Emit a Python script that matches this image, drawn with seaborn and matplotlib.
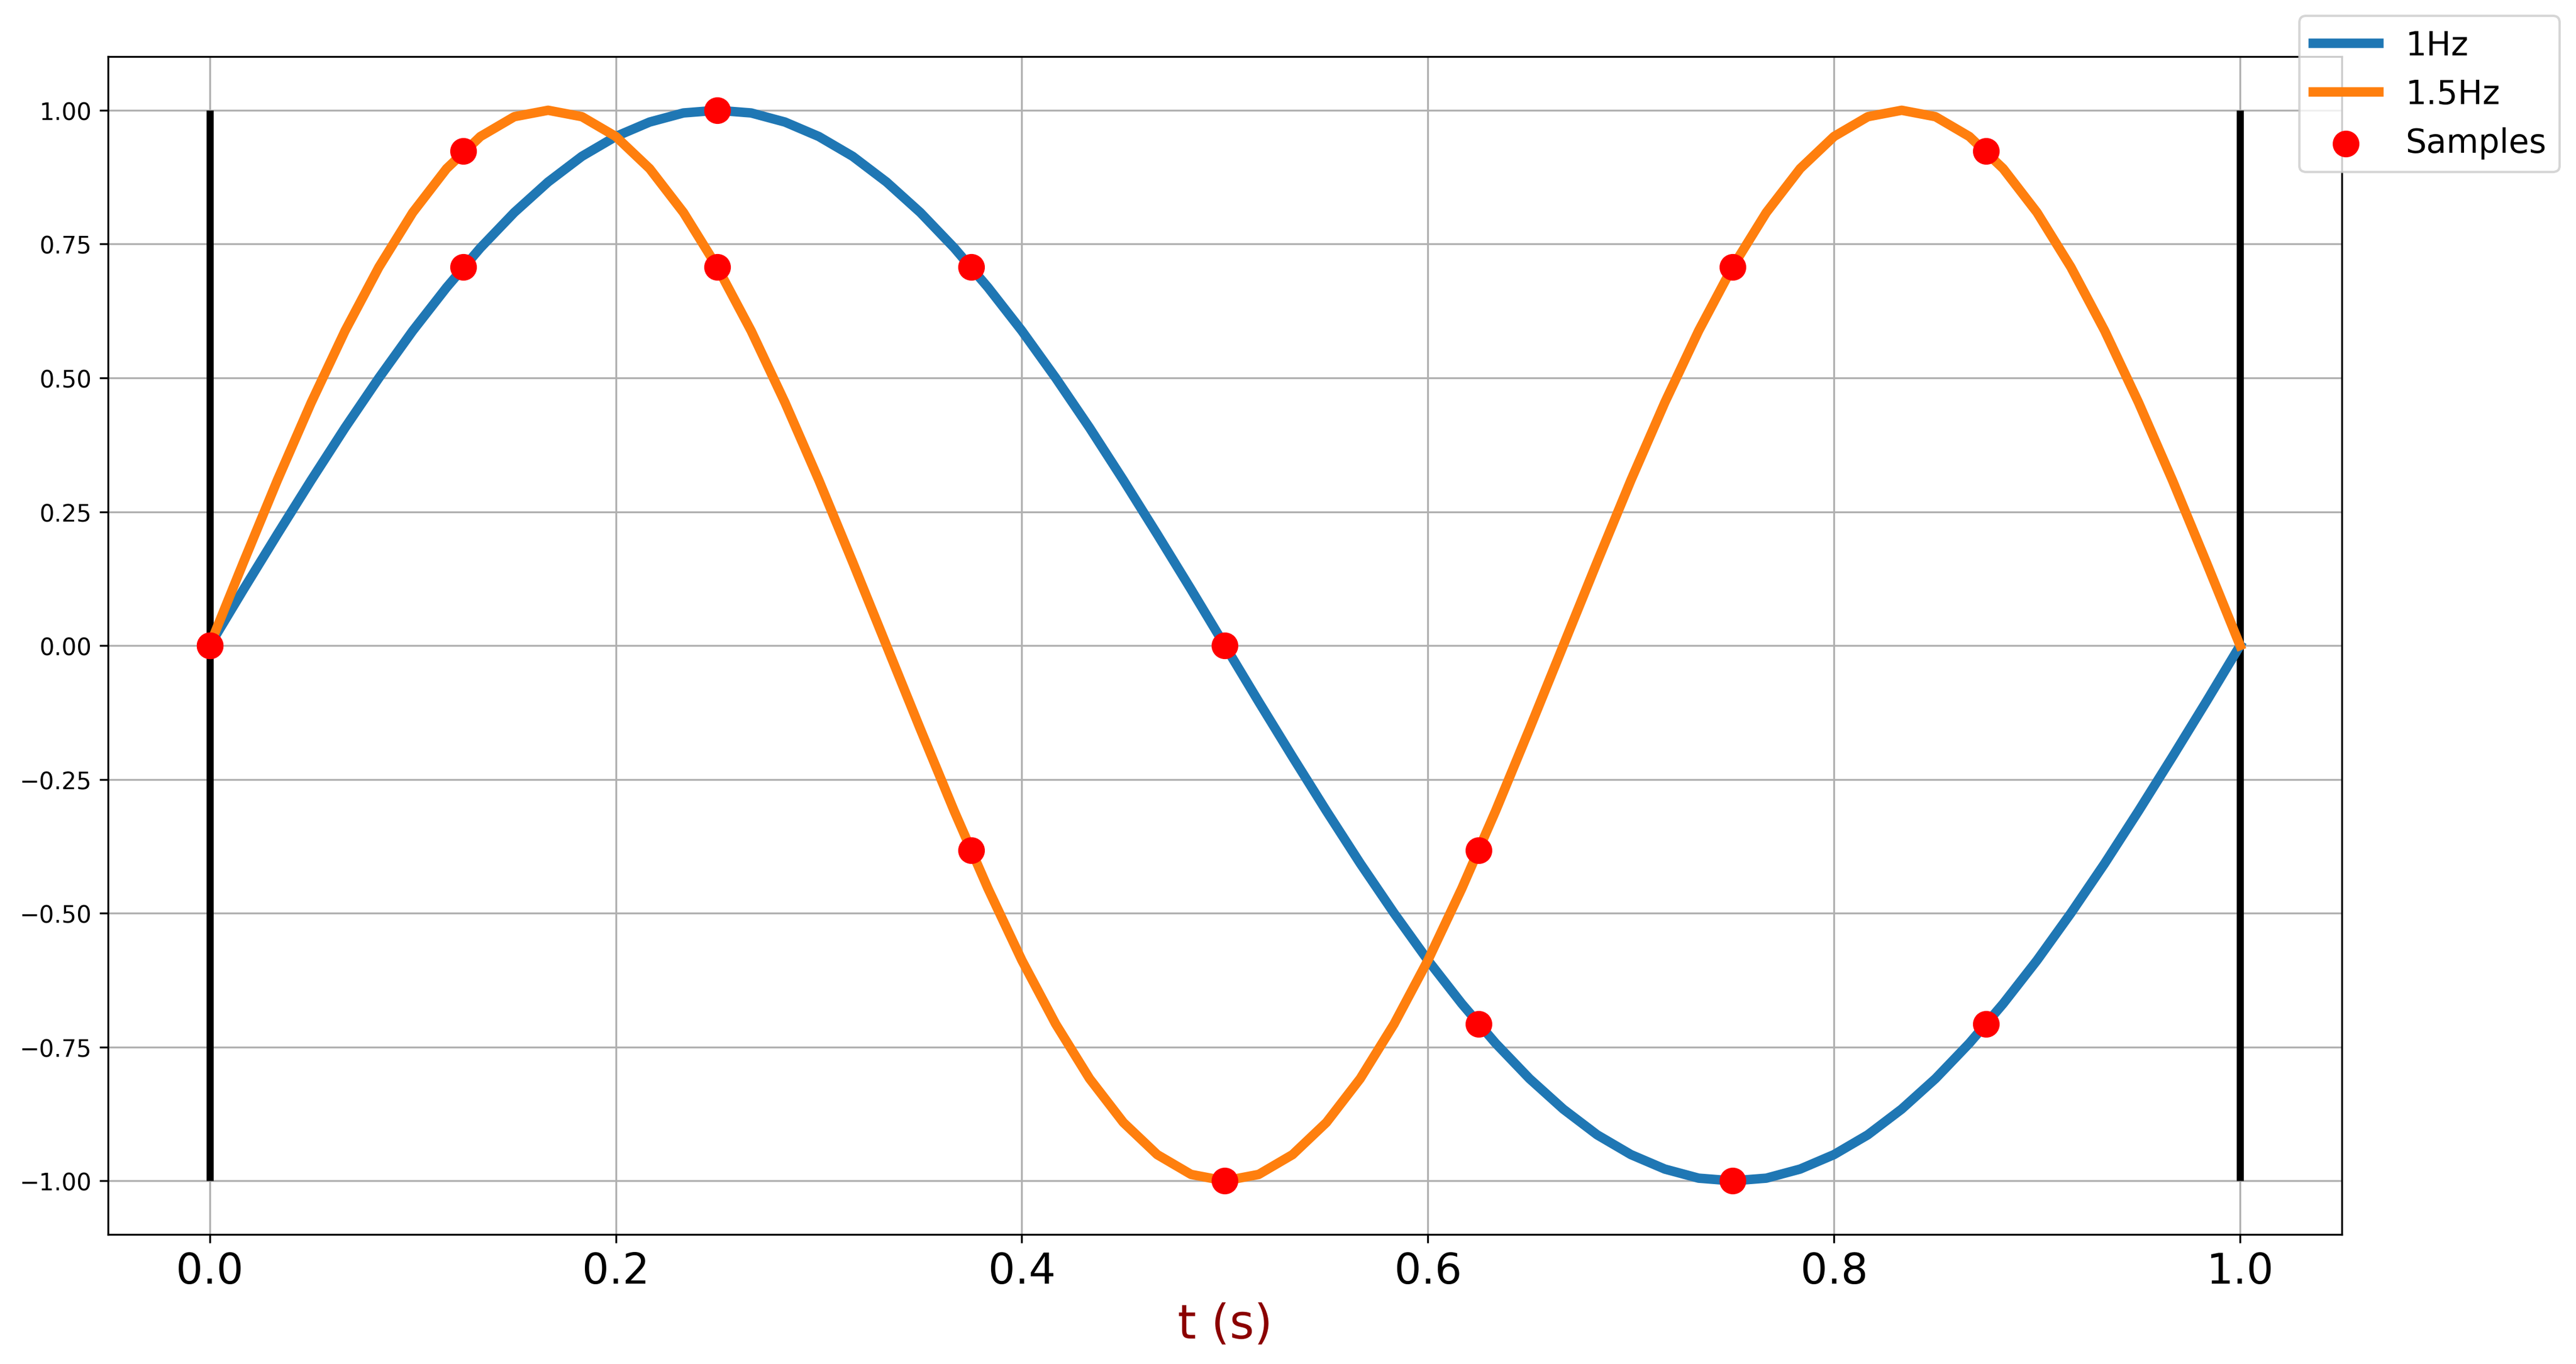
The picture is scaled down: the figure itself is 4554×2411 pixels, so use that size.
import matplotlib.pyplot as plt
import seaborn as sns

# curve points, t step = 1/60 s
t = [k / 60 for k in range(61)]
wave_1hz = [0.0, 0.105, 0.208, 0.309, 0.407, 0.5, 0.588, 0.669, 0.743, 0.809, 0.866,
            0.914, 0.951, 0.978, 0.995, 1.0, 0.995, 0.978, 0.951, 0.914, 0.866,
            0.809, 0.743, 0.669, 0.588, 0.5, 0.407, 0.309, 0.208, 0.105, 0.0,
            -0.105, -0.208, -0.309, -0.407, -0.5, -0.588, -0.669, -0.743, -0.809, -0.866,
            -0.914, -0.951, -0.978, -0.995, -1.0, -0.995, -0.978, -0.951, -0.914, -0.866,
            -0.809, -0.743, -0.669, -0.588, -0.5, -0.407, -0.309, -0.208, -0.105, 0.0]
wave_15hz = [0.0, 0.156, 0.309, 0.454, 0.588, 0.707, 0.809, 0.891, 0.951, 0.988, 1.0,
             0.988, 0.951, 0.891, 0.809, 0.707, 0.588, 0.454, 0.309, 0.156, 0.0,
             -0.156, -0.309, -0.454, -0.588, -0.707, -0.809, -0.891, -0.951, -0.988, -1.0,
             -0.988, -0.951, -0.891, -0.809, -0.707, -0.588, -0.454, -0.309, -0.156, 0.0,
             0.156, 0.309, 0.454, 0.588, 0.707, 0.809, 0.891, 0.951, 0.988, 1.0,
             0.988, 0.951, 0.891, 0.809, 0.707, 0.588, 0.454, 0.309, 0.156, 0.0]

# sample points (red dots)
t_samp = [0, 0.125, 0.25, 0.375, 0.5, 0.625, 0.75, 0.875]
samp_1hz = [0, 0.707, 1.0, 0.707, 0, -0.707, -1.0, -0.707]
samp_15hz = [0, 0.924, 0.707, -0.383, -1.0, -0.383, 0.707, 0.924]

fig, ax = plt.subplots(figsize=(15.18, 8.04), dpi=300)

ax.vlines([0, 1], -1, 1, color='black', linewidth=3)
sns.lineplot(x=t, y=wave_1hz, ax=ax, color='#1f77b4', linewidth=4, label='1Hz')
sns.lineplot(x=t, y=wave_15hz, ax=ax, color='#ff7f0e', linewidth=4, label='1.5Hz')
sns.scatterplot(x=t_samp + t_samp, y=samp_1hz + samp_15hz, ax=ax, color='red',
                s=110, edgecolor='red', zorder=5, label='Samples')

ax.grid(True)
ax.set_yticks([-1, -0.75, -0.5, -0.25, 0, 0.25, 0.5, 0.75, 1.0])
ax.tick_params(axis='x', labelsize=18)
ax.tick_params(axis='y', labelsize=10)
ax.set_xlabel('t (s)', color='darkred', fontsize=20)

handles, labels = ax.get_legend_handles_labels()
ax.get_legend().remove()
fig.legend(handles, labels, loc='upper right', fontsize=14)

plt.subplots_adjust(left=0.042, right=0.909, top=0.958, bottom=0.095)
plt.savefig('out.png', dpi=300)
